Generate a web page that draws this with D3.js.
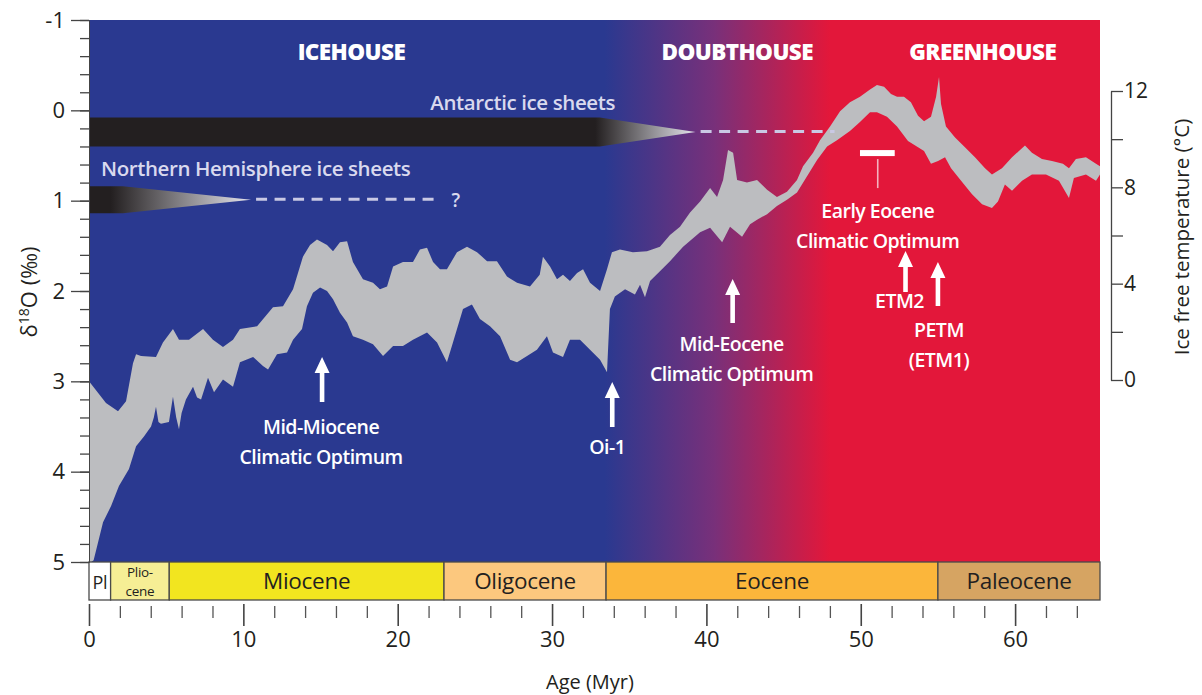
<!DOCTYPE html>
<html><head><meta charset="utf-8">
<script src="https://cdn.jsdelivr.net/npm/d3@7"></script>
<style>
body{margin:0;background:#fff}
svg{display:block}
text{font-family:"Open Sans","Noto Sans",sans-serif}
</style>
</head><body>
<svg id="c" width="1202" height="695"></svg>
<script>
// ---------- DATA ----------
// upper edge (warm side, low δ18O) of the benthic δ18O envelope
const upperAge  = [0,1.10,1.88,2.40,2.85,3.05,3.37,4.34,4.79,5.44,5.83,6.48,7.39,8.03,8.68,9.33,9.78,10.89,11.92,12.57,13.22,13.86,14.32,14.77,15.42,15.81,16.26,16.72,17.10,17.75,18.40,18.85,19.31,19.70,20.34,20.99,21.44,21.90,22.29,22.74,23.19,23.84,24.49,25.14,25.79,26.43,27.08,27.73,28.57,29.20,29.41,29.87,30.32,30.71,31.16,31.62,32.01,32.46,33.11,33.56,33.88,34.40,35.24,36.15,36.99,37.64,38.29,38.94,39.59,40.24,40.69,41.08,41.40,41.73,41.99,42.63,43.28,43.93,44.57,45.22,45.87,46.26,46.91,47.36,48.01,48.66,49.30,49.95,50.60,51.05,51.51,51.96,52.35,52.80,53.25,53.71,54.10,54.55,54.88,55.07,55.20,55.52,56.11,56.75,57.40,58.05,58.50,59.15,59.80,60.25,60.64,61.09,61.74,62.39,63.10,63.49,63.94,64.59,65.24,65.5];
const upperD18O = [3.00,3.24,3.33,3.22,2.80,2.70,2.72,2.73,2.57,2.42,2.54,2.54,2.42,2.54,2.62,2.54,2.42,2.39,2.18,2.17,1.98,1.62,1.49,1.43,1.49,1.56,1.46,1.45,1.68,1.87,1.91,1.98,1.95,1.73,1.68,1.68,1.54,1.52,1.68,1.76,1.76,1.57,1.51,1.57,1.67,1.67,1.84,1.91,1.95,1.82,1.62,1.73,1.87,1.82,1.89,1.80,1.76,1.91,2.00,1.76,1.57,1.54,1.57,1.56,1.51,1.38,1.29,1.13,1.01,0.86,0.96,0.77,0.44,0.47,0.77,0.80,0.77,0.88,0.96,0.90,0.77,0.62,0.47,0.33,0.18,0.01,-0.09,-0.15,-0.23,-0.28,-0.26,-0.18,-0.15,-0.15,-0.09,0.06,0.12,0.07,-0.15,-0.37,-0.07,0.18,0.30,0.41,0.52,0.64,0.71,0.64,0.52,0.45,0.39,0.47,0.54,0.56,0.59,0.64,0.54,0.52,0.59,0.62];
// lower edge (cold side, high δ18O)
const lowerAge  = [0,0.30,0.91,1.43,1.94,2.59,3.05,3.56,4.02,4.20,4.34,4.50,4.66,5.18,5.44,5.65,5.83,6.00,6.28,6.74,7.00,7.26,7.71,8.10,8.68,9.33,9.78,10.63,11.27,11.60,12.18,12.83,13.22,13.80,14.12,14.51,14.97,15.42,15.81,16.26,16.72,17.10,17.75,18.40,19.05,19.70,20.34,20.99,21.90,22.55,23.19,23.58,24.23,24.81,25.33,25.98,26.63,27.28,27.73,28.38,29.02,29.67,30.06,30.71,31.16,31.81,32.46,33.11,33.56,33.75,34.07,34.73,35.37,35.70,36.02,36.35,36.99,37.64,38.49,39.59,40.24,41.02,41.53,42.31,42.83,43.28,43.93,44.57,45.22,45.87,46.52,47.17,47.82,48.46,49.30,49.95,50.60,51.05,51.70,52.35,53.06,53.71,54.10,54.55,55.01,55.46,55.85,56.50,57.21,57.86,58.50,58.89,59.34,59.80,60.45,61.09,62.00,62.84,63.49,63.81,64.59,65.24,65.5];
const lowerD18O = [5.02,4.98,4.56,4.38,4.16,3.97,3.72,3.61,3.50,3.40,3.28,3.45,3.47,3.45,3.17,3.40,3.53,3.35,3.20,3.06,3.18,3.20,2.96,3.12,2.98,3.06,2.79,2.73,2.83,2.87,2.70,2.68,2.54,2.42,2.17,2.02,1.96,2.00,2.09,2.24,2.35,2.50,2.54,2.59,2.72,2.61,2.61,2.54,2.46,2.57,2.79,2.57,2.20,2.15,2.31,2.39,2.50,2.76,2.79,2.72,2.65,2.50,2.68,2.73,2.54,2.54,2.65,2.76,2.90,2.20,2.06,1.98,2.04,1.93,2.07,1.89,1.78,1.67,1.51,1.35,1.30,1.46,1.29,1.40,1.26,1.21,1.15,1.06,0.99,0.91,0.73,0.55,0.40,0.33,0.23,0.13,0.02,0.02,0.07,0.18,0.34,0.41,0.45,0.59,0.56,0.52,0.64,0.78,0.93,1.04,1.08,1.01,0.82,0.89,0.78,0.71,0.71,0.78,0.97,0.75,0.71,0.78,0.71];

const epochNames  = ["Pl","Plio-|cene","Miocene","Oligocene","Eocene","Paleocene"];
const epochBounds = [0,1.4,5.2,23.0,33.5,55.0,65.5];
const epochFills  = ["#ffffff","#f6ee95","#f2e51f","#fcc87e","#fbb63b","#d6a462"];

const ageMinorTicks = d3.range(0,65,2);
const ageMajorTicks = [0,10,20,30,40,50,60];
const d18OMajorTicks = [-1,0,1,2,3,4,5];
const tempMajorTicks = [0,4,8,12];
const tempMinorTicks = [2,6,10];

const regimeNames = ["ICEHOUSE","DOUBTHOUSE","GREENHOUSE"];
const regimeAges  = [17.0,42.0,57.9];

// ice sheet extents: [full-until age, taper tip age, dashed-until age, top δ, bottom δ]
const antarcticIce = [33.1,39.3,48.3,0.08,0.40];
const northernIce  = [2.2,10.5,22.7,0.84,1.14];

// ---------- LAYOUT ----------
const L=89,R=1100,T=20,B=562;
const svg=d3.select("#c");
const x=d3.scaleLinear([0,65.5],[L,R]);
const y=d3.scaleLinear([-1,5],[T,B]);
const yT=d3.scaleLinear([0,12],[380,91]);
const ink="#231f20";
const defs=svg.append("defs");

// background gradient
const bg=defs.append("linearGradient").attr("id","bg").attr("gradientUnits","userSpaceOnUse")
  .attr("x1",L).attr("x2",R).attr("y1",0).attr("y2",0);
bg.append("stop").attr("offset",(x(33.4)-L)/(R-L)).attr("stop-color","#2a3990");
bg.append("stop").attr("offset",(x(40.5)-L)/(R-L)).attr("stop-color","#78307a");
bg.append("stop").attr("offset",(x(48.0)-L)/(R-L)).attr("stop-color","#e3173a");
defs.append("clipPath").attr("id","plot").append("rect").attr("x",L).attr("y",T).attr("width",R-L).attr("height",B-T);

svg.append("rect").attr("x",L).attr("y",T).attr("width",R-L).attr("height",B-T).attr("fill","url(#bg)");

// band
const poly=upperAge.map((a,i)=>[a,upperD18O[i]]).concat(lowerAge.map((a,i)=>[a,lowerD18O[i]]).reverse());
svg.append("path").attr("clip-path","url(#plot)")
  .attr("d",d3.line().x(d=>x(d[0])).y(d=>y(d[1]))(poly)+"Z")
  .attr("fill","#bcbdc0");

// regime labels
svg.append("g").selectAll("text").data(regimeNames).join("text")
  .attr("x",(d,i)=>x(regimeAges[i])).attr("y",60).attr("text-anchor","middle")
  .attr("fill","#fff").attr("font-weight",800).attr("font-size",22.5).attr("letter-spacing",-0.6).text(d=>d);

// ice sheets
function iceSheet(spec,id,darkFrom){
  const [full,tip,dash,top,bot]=spec;
  const mid=(y(top)+y(bot))/2;
  const g=defs.append("linearGradient").attr("id",id).attr("gradientUnits","userSpaceOnUse")
    .attr("x1",x(darkFrom)).attr("x2",x(tip)).attr("y1",0).attr("y2",0);
  g.append("stop").attr("offset",0).attr("stop-color","#231f20");
  g.append("stop").attr("offset",1).attr("stop-color","#e4e4ec");
  svg.append("path").attr("fill",`url(#${id})`)
    .attr("d",`M${x(0)},${y(top)}L${x(full)},${y(top)}L${x(tip)},${mid}L${x(full)},${y(bot)}L${x(0)},${y(bot)}Z`);
  svg.append("line").attr("x1",x(tip)+5).attr("x2",x(dash)).attr("y1",mid-0.5).attr("y2",mid-0.5)
    .attr("stroke","#c9c9e4").attr("stroke-width",3).attr("stroke-dasharray","11,7.5");
  return mid;
}
iceSheet(antarcticIce,"gA",antarcticIce[0]-0.3);
const nhMid=iceSheet(northernIce,"gN",northernIce[0]-0.8);
svg.append("text").attr("x",615).attr("y",110).attr("text-anchor","end").attr("fill","#d9d9ee")
  .attr("font-size",20.5).attr("font-weight",600).attr("letter-spacing",-0.4).text("Antarctic ice sheets");
svg.append("text").attr("x",101).attr("y",176).attr("fill","#d9d9ee")
  .attr("font-size",20.5).attr("font-weight",600).attr("letter-spacing",-0.4).text("Northern Hemisphere ice sheets");
svg.append("text").attr("x",x(northernIce[2])+12).attr("y",nhMid+7).attr("fill","#d9d9ee")
  .attr("font-size",19).attr("font-weight",600).text("?");

// arrows & event labels
function arrow(ax,yTip,yBase){
  const xc=x(ax),hw=7.5,hh=16,sw=2.3;
  svg.append("path").attr("fill","#fff")
    .attr("d",`M${xc},${yTip}L${xc+hw},${yTip+hh}L${xc+sw},${yTip+hh}L${xc+sw},${yBase}L${xc-sw},${yBase}L${xc-sw},${yTip+hh}L${xc-hw},${yTip+hh}Z`);
}
function label(ax,yb,lines,dx=0){
  const t=svg.append("text").attr("text-anchor","middle").attr("fill","#fff")
    .attr("font-size",19.5).attr("font-weight",600).attr("letter-spacing",-0.5);
  lines.forEach((s,i)=>t.append("tspan").attr("x",x(ax)+dx).attr("y",yb+i*30).text(s));
}
arrow(15.1,357,402); label(15.1,434,["Mid-Miocene","Climatic Optimum"],-1);
arrow(33.9,382,427); label(33.9,454,["Oi-1"],-5);
arrow(41.7,279,323); label(41.7,351,["Mid-Eocene","Climatic Optimum"],-1);
arrow(52.9,251,292); label(52.9,308,["ETM2"],-6);
arrow(55.0,262,306); label(55.0,337,["PETM","(ETM1)"],1);
label(51.1,218,["Early Eocene","Climatic Optimum"],0);
svg.append("rect").attr("x",x(49.95)).attr("y",y(0.44)).attr("width",x(52.2)-x(49.95)).attr("height",6).attr("fill","#fff");
svg.append("line").attr("x1",x(51.1)).attr("x2",x(51.1)).attr("y1",y(0.44)+9).attr("y2",y(0.44)+38)
  .attr("stroke","#f3b3be").attr("stroke-width",1.6);

// epoch bar
const eg=svg.append("g");
epochNames.forEach((n,i)=>{
  const x0=x(epochBounds[i]),x1=x(epochBounds[i+1]);
  eg.append("rect").attr("x",x0).attr("y",B).attr("width",x1-x0).attr("height",38)
    .attr("fill",epochFills[i]).attr("stroke","#4a4a4a").attr("stroke-width",1.3);
  const parts=n.split("|"), cx=(x0+x1)/2;
  if(parts.length>1){
    eg.append("text").attr("x",cx).attr("y",B+15).attr("text-anchor","middle").attr("fill",ink)
      .attr("font-size",13.5).attr("letter-spacing",-0.3).text(parts[0]);
    eg.append("text").attr("x",cx).attr("y",B+33.5).attr("text-anchor","middle").attr("fill",ink)
      .attr("font-size",13.5).attr("letter-spacing",-0.3).text(parts[1]);
  } else {
    eg.append("text").attr("x",cx).attr("y",B+27).attr("text-anchor","middle").attr("fill",ink)
      .attr("font-size",i===0?18:22.5).attr("letter-spacing",-0.3).text(n);
  }
});

// left axis
const la=svg.append("g").attr("transform",`translate(${L},0)`)
  .call(d3.axisLeft(y).tickValues(d3.range(-1,5.001,0.2)).tickSize(9).tickFormat(""));
la.select(".domain").attr("stroke","#444");
la.selectAll(".tick line").attr("stroke","#444").attr("stroke-width",1.3);
const lb=svg.append("g").attr("transform",`translate(${L},0)`)
  .call(d3.axisLeft(y).tickValues(d18OMajorTicks).tickSize(18).tickPadding(6).tickFormat(d=>d<0?"-"+(-d):d));
lb.select(".domain").remove();
lb.selectAll(".tick line").attr("stroke","#444").attr("stroke-width",1.3);
lb.selectAll("text").attr("font-size",22).attr("fill",ink).attr("font-family","Open Sans");

// bottom axis
const ba=svg.append("g").attr("transform",`translate(0,604)`)
  .call(d3.axisBottom(x).tickValues(ageMinorTicks.filter(v=>v%10)).tickSize(12).tickFormat(""));
ba.select(".domain").remove();
ba.selectAll(".tick line").attr("stroke","#555").attr("stroke-width",1.3).attr("transform","translate(0,2)");
const bb=svg.append("g").attr("transform",`translate(0,604)`)
  .call(d3.axisBottom(x).tickValues(ageMajorTicks).tickSize(22).tickPadding(5));
bb.select(".domain").remove();
bb.selectAll(".tick line").attr("stroke","#444").attr("stroke-width",1.6);
bb.selectAll("text").attr("font-size",22).attr("fill",ink).attr("font-family","Open Sans");

// right axis
const ra=svg.append("g").attr("transform",`translate(1111,0)`)
  .call(d3.axisRight(yT).tickValues(tempMinorTicks).tickSize(12).tickSizeOuter(0).tickFormat(""));
ra.select(".domain").attr("stroke","#444").attr("stroke-width",1.3);
ra.selectAll(".tick line").attr("stroke","#444").attr("stroke-width",1.3);
const rb=svg.append("g").attr("transform",`translate(1111,0)`)
  .call(d3.axisRight(yT).tickValues(tempMajorTicks).tickSize(12).tickPadding(1));
rb.select(".domain").remove();
rb.selectAll(".tick line").attr("stroke","#444").attr("stroke-width",1.3);
rb.selectAll("text").attr("font-size",21).attr("fill",ink).attr("font-family","Open Sans");

// axis titles
svg.append("text").attr("x",590).attr("y",689).attr("text-anchor","middle").attr("fill",ink)
  .attr("font-size",20).text("Age (Myr)");
svg.append("text").attr("transform","translate(1189,237) rotate(-90)").attr("text-anchor","middle")
  .attr("fill",ink).attr("font-size",20.5).text("Ice free temperature (°C)");
const yt=svg.append("text").attr("transform","translate(37,292) rotate(-90)").attr("text-anchor","middle")
  .attr("fill",ink).attr("font-size",22);
yt.append("tspan").text("δ");
yt.append("tspan").attr("dy",-8).attr("font-size",14).text("18");
yt.append("tspan").attr("dy",8).text("O (‰)");
</script>
</body></html>
